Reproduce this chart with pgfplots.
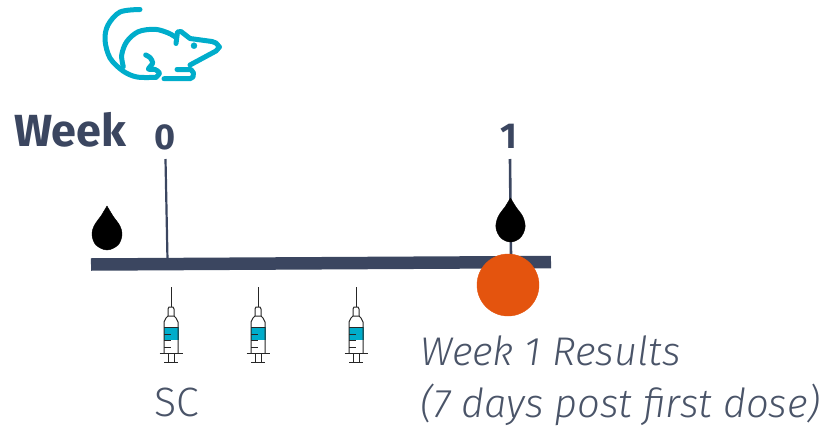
\documentclass[border=0pt]{standalone}
\usepackage{pgfplots}
\pgfplotsset{compat=1.18}
\usepackage{fontspec}
\setmainfont{Fira Sans}
\newfontfamily\lightf[ItalicFont={Fira Sans Light Italic}]{Fira Sans Light}
\definecolor{navy}{HTML}{3B4660}
\definecolor{teal}{HTML}{00ADCB}
\definecolor{orng}{HTML}{E4540E}
\definecolor{txt}{HTML}{4A5468}
\newcommand{\syr}[1]{%
 \addplot[fill=teal,draw=none,xshift=#1pt] coordinates {(163.5,327)(178.5,327)(178.5,340)(163.5,340)} --cycle;
 \addplot[black!85,line width=1pt,xshift=#1pt] coordinates {(171,287)(171,307)};
 \addplot[black!85,line width=1pt,xshift=#1pt] coordinates {(168,316)(168,309)(169,307)(173,307)(174,309)(174,316)};
 \addplot[black!85,line width=1pt,xshift=#1pt] coordinates {(164,353)(164,322)(166,318)(168,316)(174,316)(176,318)(178,322)(178,353)};
 \addplot[black!85,line width=1pt,xshift=#1pt] coordinates {(159.5,353)(182.5,353)};
 \addplot[black!85,line width=1pt,xshift=#1pt] coordinates {(168,353)(168,362)};
 \addplot[black!85,line width=1pt,xshift=#1pt] coordinates {(174,353)(174,362)};
 \addplot[black!85,line width=1pt,xshift=#1pt] coordinates {(164,362)(178,362)};
 \addplot[black!85,line width=1pt,xshift=#1pt] coordinates {(164,327)(178,327)};
 \addplot[black!85,line width=1pt,xshift=#1pt] coordinates {(164,334)(171,334)};
 \addplot[black!85,line width=1pt,xshift=#1pt] coordinates {(164,340)(171,340)};
 \addplot[black!85,line width=1pt,xshift=#1pt] coordinates {(164,347)(171,347)};
}
\begin{document}
\begin{tikzpicture}
\begin{axis}[
  at={(0pt,0pt)},anchor=south west,
  scale only axis,width=823pt,height=426pt,
  xmin=0,xmax=823,ymin=0,ymax=426,y dir=reverse,
  hide axis,clip=false]
% timeline
\addplot[navy,line width=12.5pt] coordinates {(91,264.5)(551,262)};
\addplot[navy,line width=2.2pt] coordinates {(165.5,159)(167.5,260)};
\addplot[navy,line width=2.6pt] coordinates {(510,159)(511,256)};
% drops
\addplot[black,fill=black,smooth,tension=0.6] coordinates {(107,206)(113,216)(120,226)(122,235)(118,245)(107,250)(96,245)(92,235)(94,226)(101,216)} --cycle;
\addplot[black,fill=black,smooth,tension=0.6] coordinates {(510.5,198)(516,207)(523,217)(525,228)(520,238)(510.5,242)(501,238)(496,228)(498,217)(505,207)} --cycle;
% point
\addplot[orng,only marks,mark=*,mark size=31pt,mark options={fill=orng,draw=orng}] coordinates {(508,285)};
% rat
\addplot[teal,line width=5pt,line cap=round,line join=round,smooth,tension=0.55] coordinates {(140,9.5)(120,12)(108,25)(105,40)(110,58)(123,71)(137,77)(156,77.3)};
\addplot[teal,line width=5pt,line cap=round,line join=round,smooth,tension=0.5] coordinates {(156,77.3)(159.5,73)(155,69.5)(148.5,69)(152.7,63)(150,57.5)(145.7,55)};
\addplot[teal,line width=5pt,line cap=round,line join=round,smooth,tension=0.55] coordinates {(123.3,66.7)(121.7,55)(126.7,41.7)(138.3,31.7)(155,29.3)(168.3,33)(176,37.5)};
\addplot[teal,line width=5pt,line cap=round,line join=round] coordinates {(176,43.5)(177.5,32)(181,31.5)(190,38.5)(212,41.5)(216,43)(219.5,47)(216,51)(190,65)};
\addplot[teal,line width=5pt,line cap=round,line join=round] coordinates {(177,69.5)(191,69.5)(193.5,73)(193,77)(190,78.7)(164,78.7)};
\addplot[teal,only marks,mark=*,mark size=3pt,mark options={fill=teal,draw=teal}] coordinates {(194,45.7)};
% syringes
\syr{0}\syr{87}\syr{185}
% text
\node[anchor=base west,inner sep=0pt,font=\fontsize{45}{45}\selectfont\bfseries,text=navy] at (axis cs:14,146) {Week};
\node[anchor=base,inner sep=0pt,font=\fontsize{36}{36}\selectfont\bfseries,text=navy] at (axis cs:165,149) {0};
\node[anchor=base,inner sep=0pt,font=\fontsize{36}{36}\selectfont\bfseries,text=navy] at (axis cs:509,148) {1};
\node[anchor=base,inner sep=0pt,font=\fontsize{41}{41}\selectfont\lightf,text=txt] at (axis cs:177,416) {SC};
\node[anchor=base west,inner sep=0pt,font=\fontsize{40}{40}\selectfont\lightf\itshape,text=txt] at (axis cs:420,365) {Week 1 Results};
\node[anchor=base west,inner sep=0pt,font=\fontsize{40}{40}\selectfont\lightf\itshape,text=txt] at (axis cs:420,417) {(7 days post first dose)};
\end{axis}
\path[use as bounding box] (0pt,0pt) rectangle (823pt,426pt);
\end{tikzpicture}
\end{document}
